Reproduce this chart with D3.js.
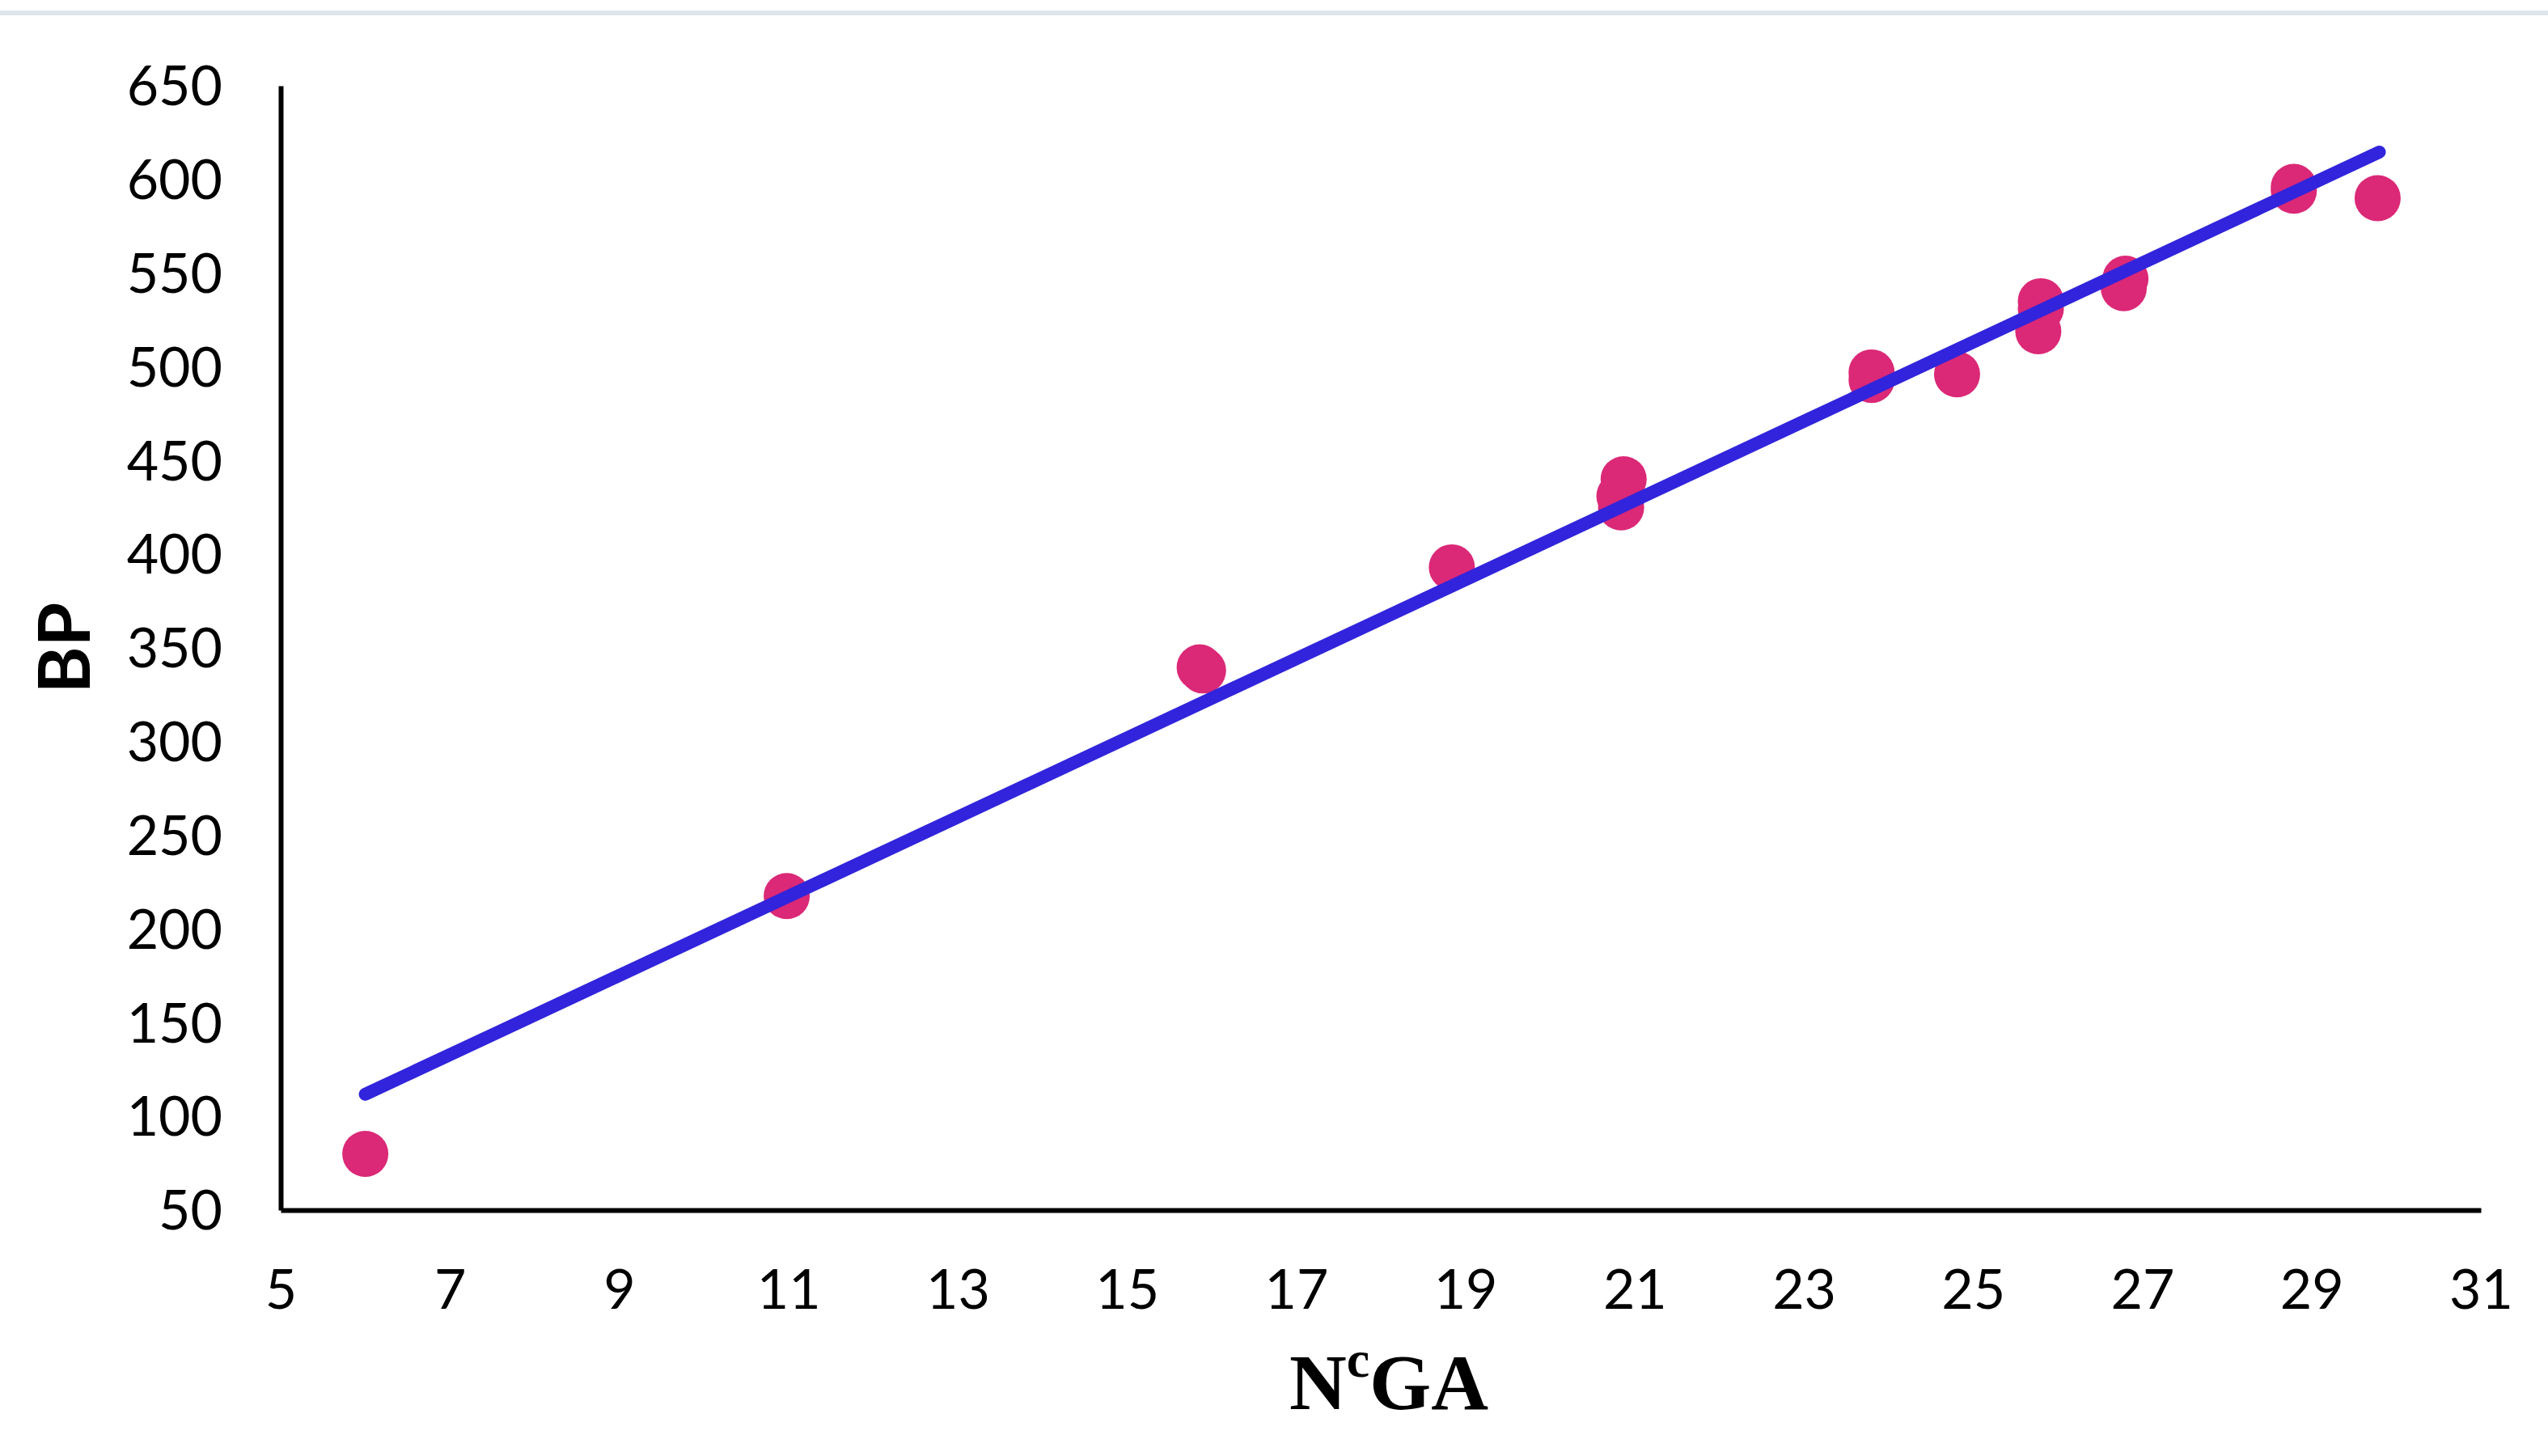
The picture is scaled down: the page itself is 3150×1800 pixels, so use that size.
<!DOCTYPE html>
<html>
<head>
<meta charset="utf-8">
<script src="https://cdn.jsdelivr.net/npm/d3@7"></script>
<style>
  body { margin: 0; background: #fff; }
  #chart { width: 3150px; height: 1800px; }
</style>
</head>
<body>
<div id="chart"></div>
<script>
// valores (NcGA x BP)
const ncga = [6.0, 10.98, 15.86, 15.9, 18.84, 20.87, 20.82, 20.84, 23.8, 23.8, 24.81, 25.8, 25.8, 25.77, 26.8, 26.78, 28.79, 28.79, 29.78];
const bp   = [80, 217.6, 339.6, 338, 393, 440, 431, 425, 497, 493, 496, 535, 531, 519, 547, 542, 596, 594, 590];

// linha de tendência (extremos)
const trendX = [6.0, 29.8];
const trendY = [111.8, 614.6];

const xTicks = [5, 7, 9, 11, 13, 15, 17, 19, 21, 23, 25, 27, 29, 31];
const yTicks = [50, 100, 150, 200, 250, 300, 350, 400, 450, 500, 550, 600, 650];

const W = 3150, H = 1800;
const margin = {top: 106, right: 83, bottom: 304, left: 347};

const svg = d3.select("#chart")
    .append("svg")
    .attr("width", W)
    .attr("height", H)
    .style("background", "#fff");

// faixa cinza no topo
svg.append("rect")
    .attr("x", 0).attr("y", 13)
    .attr("width", W).attr("height", 6)
    .attr("fill", "#dfe5ec");

const x = d3.scaleLinear()
    .domain([5, 31])
    .range([margin.left, W - margin.right]);

const y = d3.scaleLinear()
    .domain([50, 650])
    .range([H - margin.bottom, margin.top]);

const tickFont = "Lato, 'Open Sans', sans-serif";

// eixo X
const xAxis = svg.append("g")
    .attr("transform", `translate(0,${y(50)})`)
    .call(d3.axisBottom(x).tickValues(xTicks).tickSize(0).tickSizeOuter(0).tickPadding(74).tickFormat(d3.format("d")));

// eixo Y
const yAxis = svg.append("g")
    .attr("transform", `translate(${x(5)},0)`)
    .call(d3.axisLeft(y).tickValues(yTicks).tickSize(0).tickSizeOuter(0).tickPadding(72).tickFormat(d3.format("d")));

[xAxis, yAxis].forEach(g => {
    g.select(".domain")
        .attr("stroke", "#000")
        .attr("stroke-width", 6);
    g.selectAll("text")
        .attr("fill", "#000")
        .style("font-family", tickFont)
        .style("font-size", "68px");
});
yAxis.selectAll("text").attr("dy", "0.35em");

const points = ncga.map((v, i) => ({x: v, y: bp[i]}));

// pontos
svg.append("g")
    .selectAll("circle")
    .data(points)
    .join("circle")
    .attr("cx", d => x(d.x))
    .attr("cy", d => y(d.y))
    .attr("r", 28.5)
    .attr("fill", "#db2877");

// linha de tendência
const trend = trendX.map((v, i) => ({x: v, y: trendY[i]}));
svg.append("path")
    .datum(trend)
    .attr("d", d3.line().x(d => x(d.x)).y(d => y(d.y)))
    .attr("fill", "none")
    .attr("stroke", "#3124dc")
    .attr("stroke-width", 16)
    .attr("stroke-linecap", "round");

// título do eixo X: NᶜGA
const xTitle = svg.append("text")
    .attr("x", 1717)
    .attr("y", 1742)
    .attr("text-anchor", "middle")
    .style("font-family", "'Liberation Serif', 'DejaVu Serif', serif")
    .style("font-weight", "bold")
    .style("font-size", "98px")
    .attr("fill", "#000");
xTitle.append("tspan").text("N");
xTitle.append("tspan").attr("dy", -40).style("font-size", "64px").text("c");
xTitle.append("tspan").attr("dy", 40).text("GA");

// título do eixo Y
svg.append("text")
    .attr("transform", "translate(111,801) rotate(-90)")
    .attr("text-anchor", "middle")
    .style("font-family", "Lato, 'Open Sans', sans-serif")
    .style("font-weight", "bold")
    .style("font-size", "88px")
    .attr("fill", "#000")
    .text("BP");
</script>
</body>
</html>
